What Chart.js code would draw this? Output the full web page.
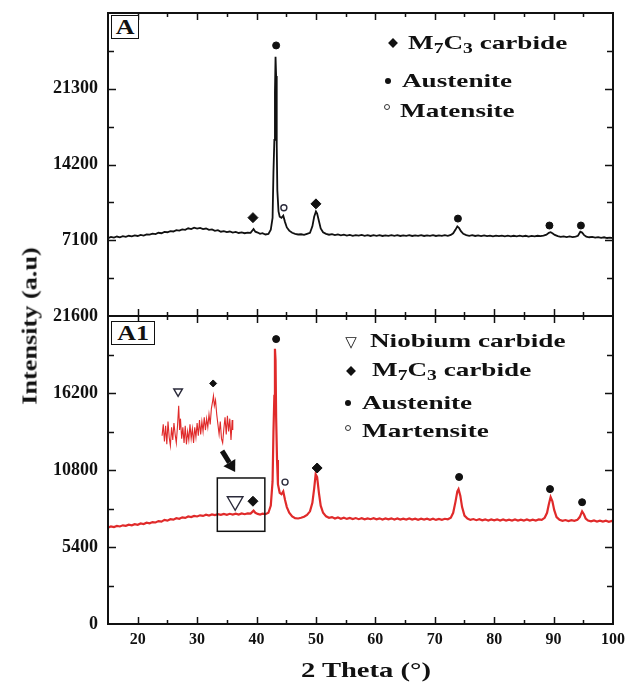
<!DOCTYPE html>
<html lang="en">
<head>
<meta charset="UTF-8">
<title>XRD patterns A and A1</title>
<script src="https://cdn.jsdelivr.net/npm/chart.js"></script>
<style>
  body { margin: 0; background: #fff; }
  #wrap { position: relative; width: 637px; height: 687px; overflow: hidden; font-family: "Liberation Serif", serif; color: #111; }
  #wrap canvas { position: absolute; left: 0; }
  .txt { position: absolute; font-weight: bold; white-space: nowrap; line-height: 1; transform-origin: 0 50%; }
  .legend { font-size: 19px; transform: scaleX(1.43); }
  .legend sub { font-size: 0.72em; vertical-align: -0.28em; line-height: 0; }
  .mk { position: absolute; transform: translate(-50%, -50%); }
  .diamond { width: 7px; height: 7px; background: #111; transform: translate(-50%, -50%) rotate(45deg); }
  .dot { width: 6px; height: 6px; border-radius: 50%; background: #111; }
  .ring { width: 4px; height: 4px; border-radius: 50%; border: 1.2px solid #333; }
  .tri { font-family: "DejaVu Sans", sans-serif; font-size: 15px; line-height: 1; }
  .panel { position: absolute; border: 1.5px solid #111; font-weight: bold; font-size: 20px; line-height: 22px; text-align: center; background: #fff; }
  .panel span { display: inline-block; transform: scaleX(1.3); }
</style>
</head>
<body>
<div id="wrap">
  <canvas id="chartA" width="637" height="345" style="top:-8px"></canvas>
  <canvas id="chartA1" width="637" height="392" style="top:295px"></canvas>

  <!-- panel tags -->
  <div class="panel" style="left:111px; top:15px; width:26px; height:22px;"><span>A</span></div>
  <div class="panel" style="left:111px; top:321px; width:42px; height:22px;"><span>A1</span></div>

  <!-- legend, panel A -->
  <div class="mk diamond" style="left:393px; top:43px;"></div>
  <div class="txt legend" style="left:408px; top:33px;">M<sub>7</sub>C<sub>3</sub> carbide</div>
  <div class="mk dot" style="left:388px; top:81px;"></div>
  <div class="txt legend" style="left:402px; top:71px;">Austenite</div>
  <div class="mk ring" style="left:387px; top:107px;"></div>
  <div class="txt legend" style="left:400px; top:101px;">Matensite</div>

  <!-- legend, panel A1 -->
  <div class="mk tri" style="left:351px; top:342px;">▽</div>
  <div class="txt legend" style="left:370px; top:331px;">Niobium carbide</div>
  <div class="mk diamond" style="left:351px; top:371px;"></div>
  <div class="txt legend" style="left:372px; top:360px;">M<sub>7</sub>C<sub>3</sub> carbide</div>
  <div class="mk dot" style="left:348px; top:403px;"></div>
  <div class="txt legend" style="left:362px; top:393px;">Austenite</div>
  <div class="mk ring" style="left:348px; top:428px;"></div>
  <div class="txt legend" style="left:362px; top:421px;">Martensite</div>

  <!-- axis titles -->
  <div class="txt" style="left:30px; top:326px; font-size:21px; transform-origin:50% 50%; transform:translate(-50%,-50%) rotate(-90deg) scaleX(1.25);">Intensity (a.u)</div>
  <div class="txt" style="left:366px; top:670px; font-size:22px; transform-origin:50% 50%; transform:translate(-50%,-50%) scaleX(1.3);">2 Theta (°)</div>
</div>

<script>
// ---- data ----
const thetaLabels = [20, 30, 40, 50, 60, 70, 80, 90, 100];
const intensityLabelsA = [7100, 14200, 21300];
const intensityLabelsA1 = [0, 5400, 10800, 16200, 21600];

// sample A (black) : [2 theta, intensity]
const scanA = [
  [15,7300],[15.5,7420],[16,7350],[16.5,7450],[17,7380],[17.5,7480],[18,7420],[18.5,7520],[19,7460],[19.5,7560],
  [20,7500],[20.5,7600],[21,7540],[21.5,7650],[22,7620],[22.5,7720],[23,7680],[23.5,7800],[24,7760],[24.5,7880],
  [25,7850],[25.5,7960],[26,7920],[26.5,8050],[27,8000],[27.5,8120],[28,8080],[28.5,8220],[29,8150],[29.5,8280],
  [30,8200],[30.5,8260],[31,8150],[31.5,8200],[32,8080],[32.5,8120],[33,7980],[33.5,8040],[34,7900],[34.5,7960],
  [35,7860],[35.5,7920],[36,7820],[36.5,7880],[37,7780],[37.5,7840],[38,7760],[38.5,7820],[39,7800],[39.5,8150],
  [39.8,7900],[40.2,7820],[40.6,7700],[41,7760],[41.5,7640],[42,7700],[42.4,8100],[42.7,9200],[42.85,13500],[43.0,16500],
  [43.1,21000],[43.2,24300],[43.3,22500],[43.4,16000],[43.5,11800],[43.7,9800],[43.9,9300],[44.2,9200],[44.5,9400],[44.8,8800],
  [45.1,8300],[45.5,8000],[46,7800],[46.5,7700],[47,7640],[47.5,7660],[48,7600],[48.5,7700],[49,7800],[49.4,8400],
  [49.7,9300],[50.0,9800],[50.2,9600],[50.5,8900],[50.8,8200],[51.2,7850],[51.7,7700],[52.2,7620],[52.7,7680],[53.2,7580],
  [53.7,7640],[54.2,7560],[54.7,7620],[55.2,7540],[55.7,7600],[56.2,7520],[56.7,7580],[57.2,7540],[57.7,7600],[58.2,7520],
  [58.7,7580],[59.2,7500],[59.7,7570],[60.2,7520],[60.7,7580],[61.2,7500],[61.7,7560],[62.2,7520],[62.7,7580],[63.2,7510],
  [63.7,7570],[64.2,7500],[64.7,7560],[65.2,7520],[65.7,7580],[66.2,7500],[66.7,7560],[67.2,7510],[67.7,7570],[68.2,7500],
  [68.7,7560],[69.2,7520],[69.7,7570],[70.2,7500],[70.7,7560],[71.2,7510],[71.7,7570],[72.2,7520],[72.7,7600],[73.1,7750],
  [73.5,8100],[73.8,8400],[74.1,8250],[74.4,7950],[74.8,7700],[75.3,7580],[75.8,7520],[76.3,7580],[76.8,7500],[77.3,7560],
  [77.8,7490],[78.3,7550],[78.8,7480],[79.3,7540],[79.8,7470],[80.3,7530],[80.8,7480],[81.3,7540],[81.8,7470],[82.3,7530],
  [82.8,7460],[83.3,7520],[83.8,7470],[84.3,7530],[84.8,7460],[85.3,7520],[85.8,7450],[86.3,7510],[86.8,7460],[87.3,7520],
  [87.8,7480],[88.3,7540],[88.8,7620],[89.2,7800],[89.5,7850],[89.8,7760],[90.2,7600],[90.7,7480],[91.2,7420],[91.7,7470],
  [92.2,7400],[92.7,7460],[93.2,7400],[93.7,7450],[94.1,7520],[94.5,7900],[94.8,7820],[95.1,7600],[95.5,7440],[96,7380],
  [96.5,7420],[97,7350],[97.5,7400],[98,7330],[98.5,7380],[99,7310],[99.5,7350],[100,7300]
];

// sample A1 (red)
const scanA1 = [
  [15,6750],[15.5,6850],[16,6800],[16.5,6880],[17,6840],[17.5,6920],[18,6880],[18.5,6960],[19,6920],[19.5,7000],
  [20,6960],[20.5,7050],[21,7010],[21.5,7100],[22,7060],[22.5,7150],[23,7120],[23.5,7220],[24,7180],[24.5,7300],
  [25,7250],[25.5,7350],[26,7320],[26.5,7420],[27,7380],[27.5,7480],[28,7440],[28.5,7540],[29,7500],[29.5,7580],
  [30,7540],[30.5,7620],[31,7580],[31.5,7660],[32,7610],[32.5,7680],[33,7640],[33.5,7700],[34,7650],[34.5,7720],
  [35,7660],[35.5,7730],[36,7680],[36.5,7740],[37,7680],[37.5,7750],[38,7700],[38.5,7760],[39,7740],[39.5,7950],
  [39.8,7800],[40.2,7720],[40.6,7680],[41,7740],[41.5,7700],[42,7800],[42.4,8300],[42.7,10000],[42.85,13500],[43.0,16000],
  [43.1,19300],[43.2,18500],[43.3,14500],[43.45,11500],[43.6,9800],[43.9,9200],[44.2,9100],[44.5,9300],[44.8,8700],[45.1,8200],
  [45.5,7800],[46,7550],[46.5,7420],[47,7400],[47.5,7450],[48,7520],[48.5,7650],[49,7900],[49.4,8500],[49.7,9500],
  [49.95,10500],[50.2,10300],[50.5,9200],[50.8,8300],[51.2,7800],[51.7,7550],[52.2,7450],[52.7,7500],[53.2,7400],[53.7,7470],
  [54.2,7380],[54.7,7450],[55.2,7370],[55.7,7440],[56.2,7360],[56.7,7430],[57.2,7350],[57.7,7420],[58.2,7340],[58.7,7410],
  [59.2,7350],[59.7,7420],[60.2,7340],[60.7,7410],[61.2,7330],[61.7,7400],[62.2,7340],[62.7,7410],[63.2,7330],[63.7,7400],
  [64.2,7320],[64.7,7390],[65.2,7330],[65.7,7400],[66.2,7320],[66.7,7390],[67.2,7310],[67.7,7380],[68.2,7320],[68.7,7390],
  [69.2,7310],[69.7,7380],[70.2,7300],[70.7,7370],[71.2,7310],[71.7,7380],[72.2,7340],[72.7,7450],[73.1,7800],[73.5,8600],
  [73.8,9300],[74.0,9450],[74.3,9000],[74.6,8200],[75.0,7600],[75.5,7400],[76,7300],[76.5,7360],[77,7280],[77.5,7350],
  [78,7270],[78.5,7340],[79,7260],[79.5,7330],[80,7270],[80.5,7340],[81,7260],[81.5,7330],[82,7250],[82.5,7320],
  [83,7260],[83.5,7330],[84,7250],[84.5,7320],[85,7260],[85.5,7330],[86,7250],[86.5,7320],[87,7260],[87.5,7330],
  [88,7300],[88.5,7450],[88.9,7800],[89.2,8400],[89.5,8900],[89.8,8600],[90.1,8000],[90.5,7500],[91,7300],[91.5,7230],
  [92,7290],[92.5,7220],[93,7280],[93.5,7230],[94,7300],[94.4,7500],[94.8,7900],[95.1,7700],[95.4,7400],[95.8,7250],
  [96.3,7200],[96.8,7260],[97.3,7190],[97.8,7250],[98.3,7180],[98.8,7240],[99.3,7170],[99.8,7230],[100,7200]
];

// magnified piece of A1 drawn as an inset above the boxed region
const insetA1 = [
  [24.1,13200],[24.3,14000],[24.5,12800],[24.7,13900],[24.9,12600],[25.1,14200],[25.3,13100],[25.5,12500],[25.7,13800],[25.9,12900],
  [26.1,14100],[26.3,13300],[26.5,12700],[26.7,13900],[26.9,15300],[27.05,13600],[27.2,14400],[27.4,13000],[27.6,13800],[27.8,12700],
  [28.0,13900],[28.2,12600],[28.4,13500],[28.6,12900],[28.8,14000],[29.0,13000],[29.2,13700],[29.4,12700],[29.6,13800],[29.8,13100],
  [30.0,14100],[30.2,13200],[30.4,14300],[30.6,13300],[30.8,14200],[31.0,13500],[31.2,14500],[31.4,13600],[31.6,14400],[31.8,13800],
  [32.0,14700],[32.2,14000],[32.4,15100],[32.6,15600],[32.75,16000],[32.9,15300],[33.1,15700],[33.3,14700],[33.5,14000],[33.7,13300],
  [33.9,14200],[34.1,13000],[34.3,12700],[34.5,13700],[34.7,14500],[34.9,13300],[35.1,14600],[35.3,13500],[35.5,14400],[35.7,12900],
  [35.9,14300],[36.0,13600]
];

// phase symbols above the peaks
const m7c3A = [[39.4, 9220], [50.0, 10510]];
const austeniteA = [[43.3, 25360], [73.9, 9130], [89.3, 8480], [94.6, 8480]];
const martensiteA = [[44.6, 10140]];

const niobiumA1 = [[36.4, 8610]];
const niobiumInsetA1 = [[26.8, 16310]];
const m7c3A1 = [[39.4, 8610], [50.2, 10940]];
const m7c3InsetA1 = [[32.7, 16870]];
const austeniteA1 = [[43.3, 19980], [74.1, 10310], [89.4, 9460], [94.8, 8540]];
const martensiteA1 = [[44.8, 9950]];

// zoomed region box and the arrow pointing to it (data units)
const zoomBox = [[33.4, 6500], [41.4, 10240]];
const zoomArrow = [[34.2, 12140], [36.4, 10660]];

// ---- drawing ----
Chart.defaults.font.family = '"Liberation Serif", serif';
Chart.defaults.color = '#111';

const framePlugin = {
    id: 'frame',
    afterDraw(chart) {
        const { ctx, chartArea: a, scales: { x, y } } = chart;
        const yLabels = chart.options.plugins.frame.yLabels;
        ctx.save();
        ctx.strokeStyle = '#111';
        ctx.lineWidth = 1.5;
        ctx.beginPath();
        x.ticks.forEach(t => {
            if (t.value <= x.min || t.value >= x.max) return;
            const px = Math.round(x.getPixelForValue(t.value)) + 0.5;
            const len = thetaLabels.includes(t.value) ? 7 : 4;
            ctx.moveTo(px, a.bottom); ctx.lineTo(px, a.bottom - len);
            ctx.moveTo(px, a.top); ctx.lineTo(px, a.top + len);
        });
        y.ticks.forEach(t => {
            if (t.value <= y.min || t.value >= y.max) return;
            const py = Math.round(y.getPixelForValue(t.value)) + 0.5;
            const len = yLabels.includes(t.value) ? 8 : 6;
            ctx.moveTo(a.left, py); ctx.lineTo(a.left + len, py);
            ctx.moveTo(a.right, py); ctx.lineTo(a.right - len, py);
        });
        ctx.stroke();
        ctx.lineWidth = 2;
        ctx.strokeRect(a.left, a.top, a.right - a.left, a.bottom - a.top);
        ctx.restore();
    }
};

const zoomPlugin = {
    id: 'zoomMark',
    afterDatasetsDraw(chart) {
        if (!chart.options.plugins.zoomMark.show) return;
        const { ctx, scales: { x, y } } = chart;
        const x0 = x.getPixelForValue(zoomBox[0][0]), y0 = y.getPixelForValue(zoomBox[0][1]);
        const x1 = x.getPixelForValue(zoomBox[1][0]), y1 = y.getPixelForValue(zoomBox[1][1]);
        ctx.save();
        ctx.strokeStyle = '#111';
        ctx.lineWidth = 1.5;
        ctx.strokeRect(x0, y1, x1 - x0, y0 - y1);

        // thick arrow
        const ax = x.getPixelForValue(zoomArrow[0][0]), ay = y.getPixelForValue(zoomArrow[0][1]);
        const bx = x.getPixelForValue(zoomArrow[1][0]), by = y.getPixelForValue(zoomArrow[1][1]);
        const ang = Math.atan2(by - ay, bx - ax);
        const head = 11;
        const hx = bx - Math.cos(ang) * head, hy = by - Math.sin(ang) * head;
        ctx.lineWidth = 5;
        ctx.beginPath();
        ctx.moveTo(ax, ay);
        ctx.lineTo(hx, hy);
        ctx.stroke();
        ctx.fillStyle = '#111';
        ctx.beginPath();
        ctx.moveTo(bx, by);
        ctx.lineTo(hx + Math.sin(ang) * 7, hy - Math.cos(ang) * 7);
        ctx.lineTo(hx - Math.sin(ang) * 7, hy + Math.cos(ang) * 7);
        ctx.closePath();
        ctx.fill();
        ctx.restore();
    }
};

function scanLine(data, color, width) {
    return { data, showLine: true, borderColor: color, borderWidth: width, pointRadius: 0, order: 2 };
}

function symbols(data, style, r, filled, rotation) {
    return {
        data, showLine: false, pointStyle: style, pointRadius: r, pointRotation: rotation || 0,
        pointBackgroundColor: filled ? '#111' : 'rgba(0,0,0,0)',
        pointBorderColor: filled ? '#111' : '#2a2a3a',
        pointBorderWidth: filled ? 1 : 1.4, order: 1
    };
}

// y tick labels need ~21px above/below the plot, so both canvases keep 21px padding
function panelOptions(yMax, yStep, yLabels, bottom) {
    return {
        responsive: false,
        animation: false,
        events: [],
        layout: { padding: bottom ? { top: 21, right: 24, bottom: 0, left: 0 } : { top: 21, right: 24, bottom: 21, left: 0 } },
        plugins: {
            legend: { display: false },
            tooltip: { enabled: false },
            frame: { yLabels },
            zoomMark: { show: bottom }
        },
        scales: {
            x: {
                type: 'linear', min: 15, max: 100,
                grid: { display: false, drawTicks: false },
                border: { display: false },
                ticks: {
                    display: bottom, stepSize: 5, padding: 6, autoSkip: false, maxRotation: 0,
                    color: '#111', font: { size: 16, weight: 'bold' },
                    callback: v => thetaLabels.includes(v) ? String(v) : ''
                },
                afterFit: s => { s.height = bottom ? 63 : 0; }
            },
            y: {
                min: 0, max: yMax,
                grid: { display: false, drawTicks: false },
                border: { display: false },
                ticks: {
                    stepSize: yStep, padding: 10, autoSkip: false,
                    color: '#111', font: { size: 18, weight: 'bold' },
                    callback: v => yLabels.includes(v) ? String(v) : ''
                },
                afterFit: s => { s.width = 108; }
            }
        }
    };
}

new Chart(document.getElementById('chartA'), {
    type: 'scatter',
    data: {
        datasets: [
            scanLine(scanA, '#111', 1.8),
            symbols(m7c3A, 'rectRot', 5, true),
            symbols(austeniteA, 'circle', 3.5, true),
            symbols(martensiteA, 'circle', 3, false)
        ]
    },
    options: panelOptions(28400, 3550, intensityLabelsA, false),
    plugins: [framePlugin, zoomPlugin]
});

new Chart(document.getElementById('chartA1'), {
    type: 'scatter',
    data: {
        datasets: [
            scanLine(scanA1, '#e02a2a', 2.2),
            scanLine(insetA1, '#e02a2a', 1.1),
            symbols(niobiumA1, 'triangle', 9, false, 180),
            symbols(niobiumInsetA1, 'triangle', 5, false, 180),
            symbols(m7c3A1, 'rectRot', 5, true),
            symbols(m7c3InsetA1, 'rectRot', 3.5, true),
            symbols(austeniteA1, 'circle', 3.5, true),
            symbols(martensiteA1, 'circle', 3, false)
        ]
    },
    options: panelOptions(21600, 2700, intensityLabelsA1, true),
    plugins: [framePlugin, zoomPlugin]
});
</script>
</body>
</html>
